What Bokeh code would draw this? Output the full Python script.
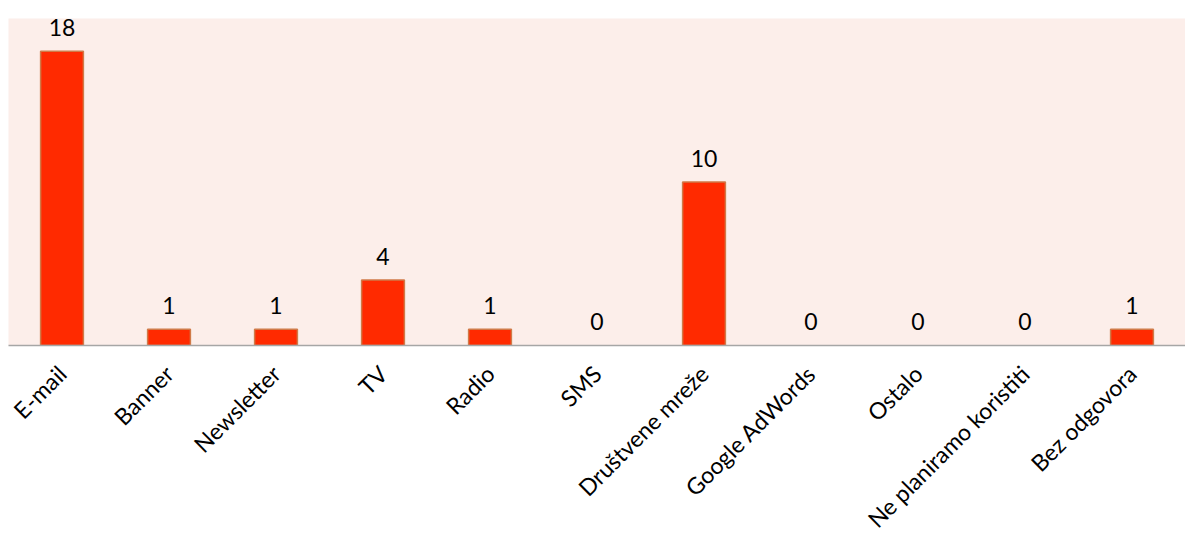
import math
from bokeh.plotting import figure
from bokeh.models import ColumnDataSource
from bokeh.core.properties import value
from bokeh.embed import file_html
from bokeh.resources import INLINE

categories = ["E-mail", "Banner", "Newsletter", "TV", "Radio", "SMS",
              "Društvene mreže", "Google AdWords", "Ostalo",
              "Ne planiramo koristiti", "Bez odgovora"]
counts = [18, 1, 1, 4, 1, 0, 10, 0, 0, 0, 1]
labels = [str(c) for c in counts]

FONT = "Lato"

outline = ["#D07A48" if c > 0 else None for c in counts]
src = ColumnDataSource(dict(cat=categories, val=counts, lab=labels, lc=outline))

p = figure(x_range=categories, y_range=(0, 20), width=1185, height=546,
           output_backend="svg", toolbar_location=None,
           min_border_left=8, min_border_right=0, min_border_top=18,
           min_border_bottom=201)
p.background_fill_color = "#FCEEEA"
p.border_fill_color = "white"
p.outline_line_color = None
p.grid.grid_line_color = None
p.yaxis.visible = False

p.vbar(x="cat", top="val", width=0.4, source=src,
       fill_color="#FF2A00", line_color="lc", line_width=1.5)

p.text(x="cat", y="val", text="lab", source=src, text_align="center",
       text_baseline="alphabetic", y_offset=-24,
       text_font=value(FONT), text_font_size="23px", text_color="black")

ax = p.xaxis[0]
ax.axis_line_color = "#A6A6A6"
ax.axis_line_width = 1.5
ax.major_tick_line_color = None
ax.minor_tick_line_color = None
ax.major_label_orientation = math.pi / 4
ax.major_label_text_font = FONT
ax.major_label_text_font_size = "23px"
ax.major_label_text_color = "black"
ax.major_label_standoff = 18

open("out.html", "w").write(file_html(p, INLINE))
